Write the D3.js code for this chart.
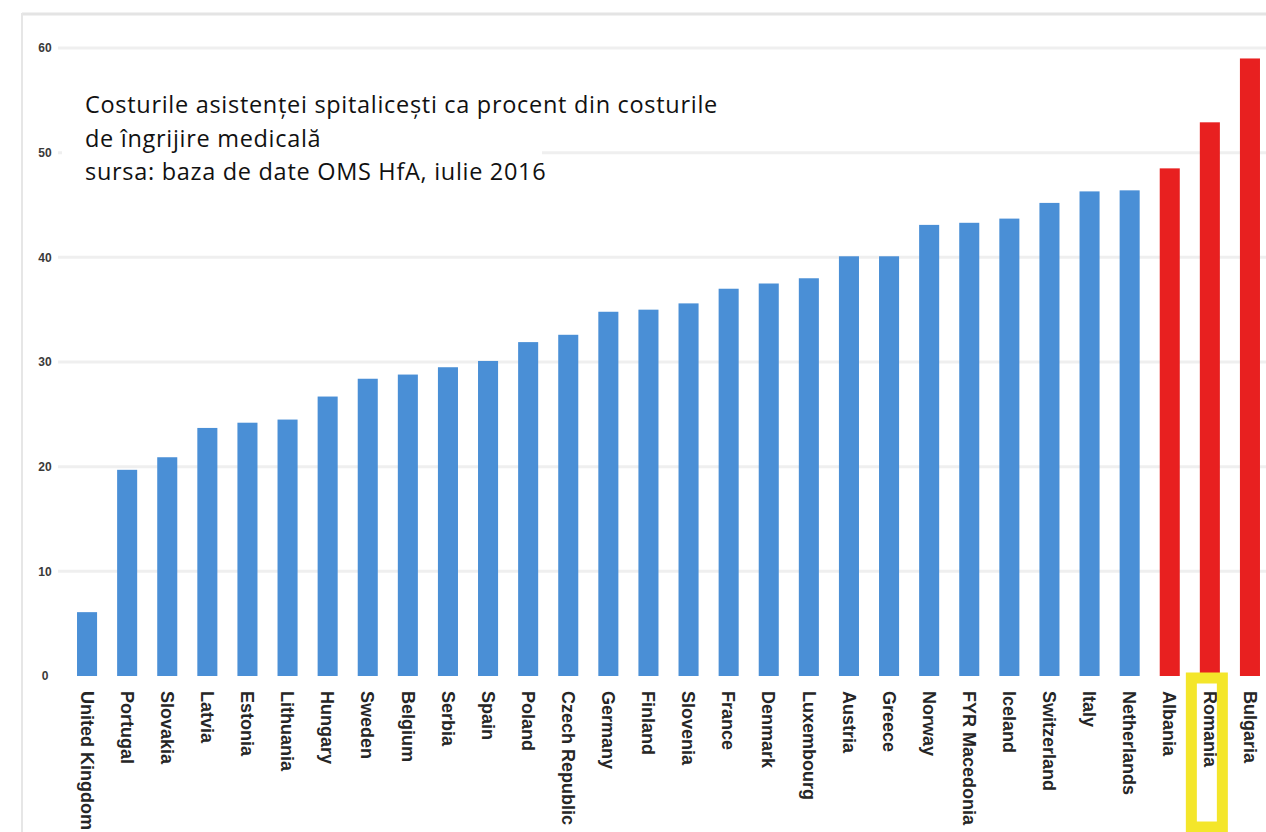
<!DOCTYPE html>
<html>
<head>
<meta charset="utf-8">
<script src="https://cdn.jsdelivr.net/npm/d3@7"></script>
<style>
  html, body { margin: 0; padding: 0; background: #ffffff; }
  svg { display: block; }
</style>
</head>
<body>
<svg id="chart" width="1266" height="832"></svg>
<script>
// Hospital care costs as a share of health care costs, by country
const countries = [
  "United Kingdom", "Portugal", "Slovakia", "Latvia", "Estonia", "Lithuania",
  "Hungary", "Sweden", "Belgium", "Serbia", "Spain", "Poland", "Czech Republic",
  "Germany", "Finland", "Slovenia", "France", "Denmark", "Luxembourg", "Austria",
  "Greece", "Norway", "FYR Macedonia", "Iceland", "Switzerland", "Italy",
  "Netherlands", "Albania", "Romania", "Bulgaria"
];
const shares = [
  6.1, 19.7, 20.9, 23.7, 24.2, 24.5,
  26.7, 28.4, 28.8, 29.5, 30.1, 31.9, 32.6,
  34.8, 35.0, 35.6, 37.0, 37.5, 38.0, 40.1,
  40.1, 43.1, 43.3, 43.7, 45.2, 46.3,
  46.4, 48.5, 52.9, 59.0
];
const highlighted = ["Albania", "Romania", "Bulgaria"];
const boxed = "Romania";
const yTicks = [0, 10, 20, 30, 40, 50, 60];
const titleLines = [
  "Costurile asistenței spitalicești ca procent din costurile",
  "de îngrijire medicală",
  "sursa: baza de date OMS HfA, iulie 2016"
];

const svg = d3.select("#chart");

const x = d3.scaleBand()
  .domain(countries)
  .range([67, 1270])
  .paddingInner(0.5)
  .paddingOuter(0.25);

const y = d3.scaleLinear()
  .domain([0, 60])
  .range([676, 48]);

// outer frame
svg.append("line")
  .attr("x1", 22).attr("x2", 1266).attr("y1", 14).attr("y2", 14)
  .attr("stroke", "#e4e4e4").attr("stroke-width", 3);
svg.append("line")
  .attr("x1", 22).attr("x2", 22).attr("y1", 13).attr("y2", 832)
  .attr("stroke", "#e6e6e6").attr("stroke-width", 2);

// gridlines
svg.append("g")
  .selectAll("line")
  .data(yTicks.filter(d => d > 0))
  .join("line")
  .attr("x1", 58).attr("x2", 1266)
  .attr("y1", d => y(d)).attr("y2", d => y(d))
  .attr("stroke", "#efefef").attr("stroke-width", 3);

// y axis labels
const yAxis = d3.axisLeft(y).tickValues(yTicks).tickSize(0).tickPadding(0);
const yg = svg.append("g")
  .attr("transform", "translate(51,0)")
  .call(yAxis);
yg.select(".domain").remove();
yg.selectAll("text")
  .attr("text-anchor", "middle")
  .attr("dx", "-6")
  .attr("font-family", "Liberation Sans, Arial, sans-serif")
  .attr("font-weight", "bold")
  .attr("font-size", 12)
  .attr("fill", "#3a3a3a");

// bars
svg.append("g")
  .selectAll("rect")
  .data(countries.map((c, i) => ({ country: c, value: shares[i] })))
  .join("rect")
  .attr("x", d => x(d.country))
  .attr("width", x.bandwidth())
  .attr("y", d => y(d.value))
  .attr("height", d => y(0) - y(d.value))
  .attr("fill", d => highlighted.includes(d.country) ? "#e82020" : "#4a8fd6");

// category labels, rotated to read downward
const xAxis = d3.axisBottom(x).tickSize(0).tickPadding(0);
const xg = svg.append("g")
  .attr("transform", `translate(0,${y(0)})`)
  .call(xAxis);
xg.select(".domain").remove();
xg.selectAll("text")
  .attr("transform", "translate(0,15) rotate(90)")
  .attr("text-anchor", "start")
  .attr("x", 0).attr("y", 0)
  .attr("dy", "0.35em")
  .attr("font-family", "Liberation Sans, Arial, sans-serif")
  .attr("font-weight", "bold")
  .attr("font-size", 18)
  .attr("fill", "#262626");

// highlight frame around one category label
const bx = x(boxed) + x.bandwidth() / 2 - 3;
svg.append("rect")
  .attr("x", bx - 15.5)
  .attr("y", 678)
  .attr("width", 31)
  .attr("height", 149)
  .attr("fill", "none")
  .attr("stroke", "#f4e62a")
  .attr("stroke-width", 11);

// title block on a white panel
svg.append("rect")
  .attr("x", 62).attr("y", 60).attr("width", 480).attr("height", 135)
  .attr("fill", "#ffffff");
svg.append("g")
  .selectAll("text")
  .data(titleLines)
  .join("text")
  .attr("x", 85)
  .attr("y", (d, i) => 113 + i * 33.5)
  .attr("font-family", "Open Sans, sans-serif")
  .attr("font-size", 23.5)
  .attr("letter-spacing", 0.7)
  .attr("fill", "#111111")
  .text(d => d);
</script>
</body>
</html>
